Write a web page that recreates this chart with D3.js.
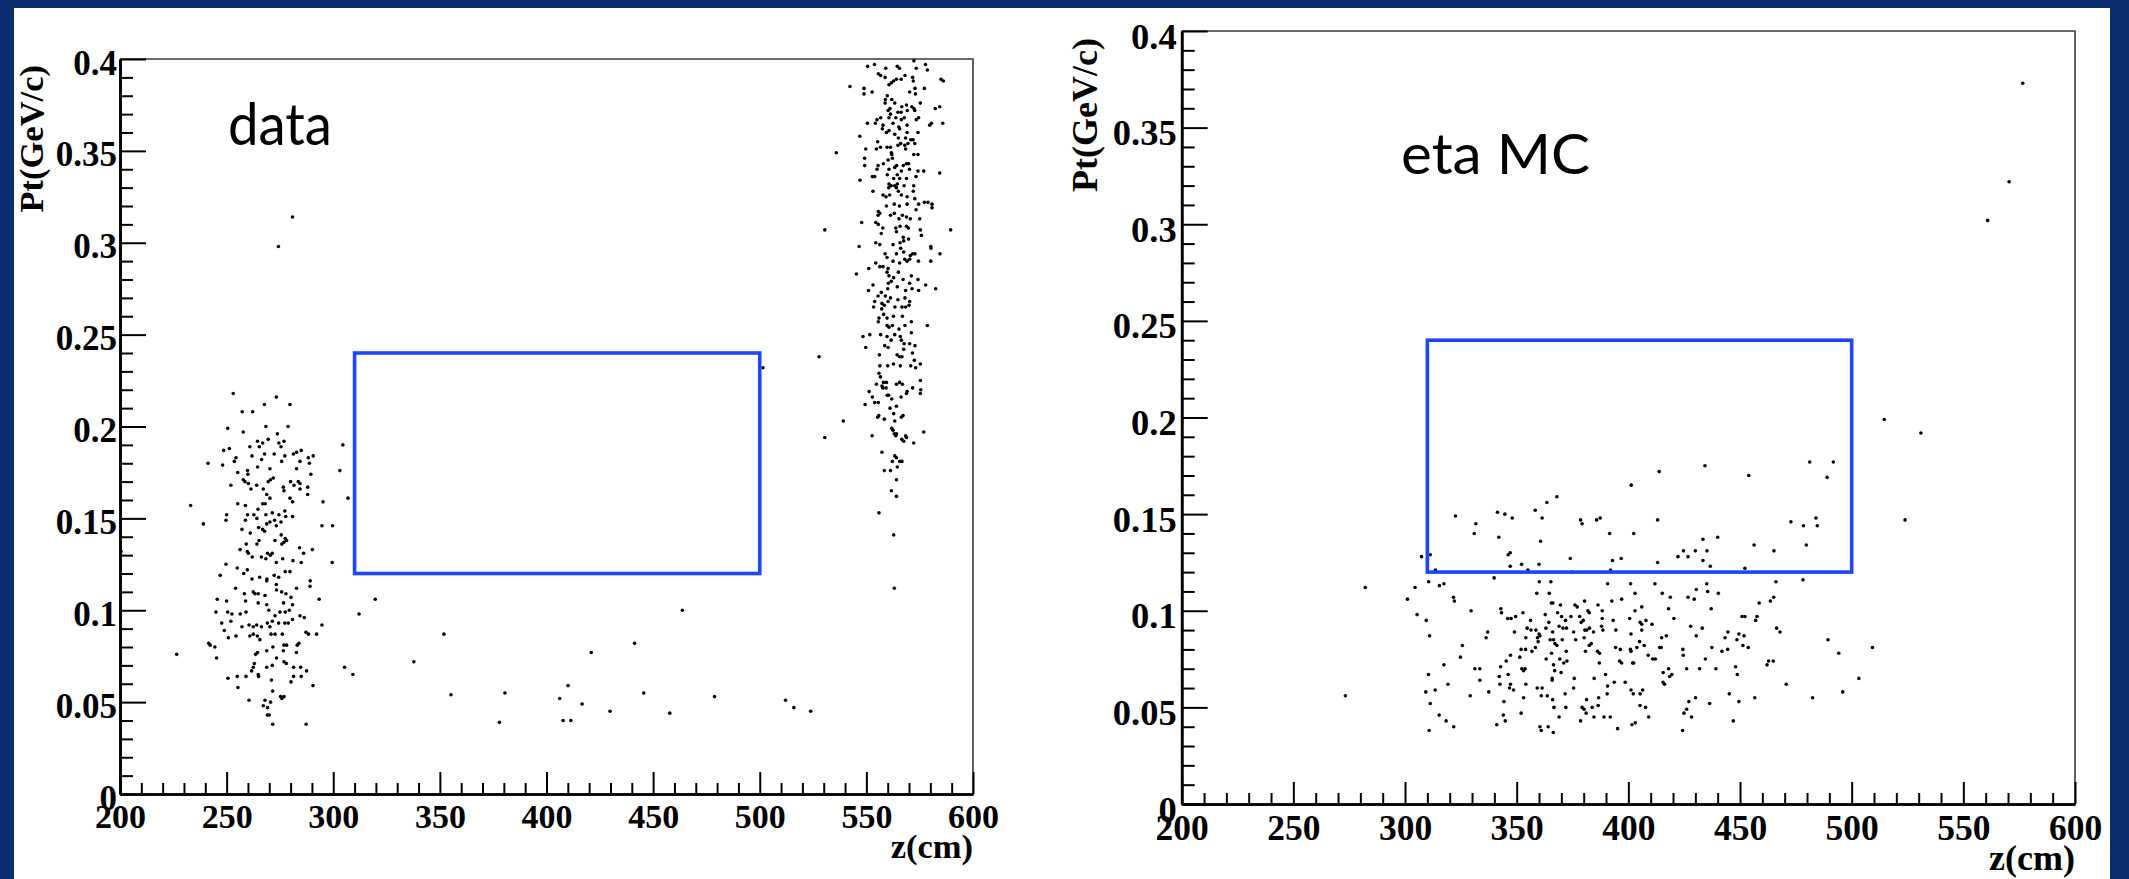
<!DOCTYPE html>
<html><head><meta charset="utf-8">
<script src="https://cdn.jsdelivr.net/npm/d3@7"></script>
<style>
html,body{margin:0;padding:0;background:#0a2d70;}
svg{display:block}
</style>
</head><body>
<svg id="chart" width="2129" height="879"></svg>
<script>
// ---------------- DATA ----------------
// axis ranges and tick labels
const zDomain = [200, 600];
const ptDomain = [0, 0.4];
const xTickValues = [200, 250, 300, 350, 400, 450, 500, 550, 600];
const yTickValues = [0, 0.05, 0.1, 0.15, 0.2, 0.25, 0.3, 0.35, 0.4];
const yTickLabels = ["0", "0.05", "0.1", "0.15", "0.2", "0.25", "0.3", "0.35", "0.4"];
const xTitle = "z(cm)";
const yTitle = "Pt(GeV/c)";
const panelLabels = ["data", "eta MC"];
// signal box cut: z range and Pt range
const cutZ = [310, 500];
const cutPt = [0.12, 0.24];

// data: cluster at low z  [z (cm), Pt (GeV/c)]
const dataLowZ = [
[253.1,0.218],[273.3,0.216],[267.7,0.212],[279.7,0.212],[257.3,0.208],[262.2,0.208],[250.5,0.199],[268.4,0.200],
[257.8,0.197],[273.8,0.196],[278.8,0.200],[264.5,0.192],[269.5,0.193],[266.9,0.191],[274.5,0.191],[276.9,0.192],
[260.9,0.189],[265.3,0.189],[275.5,0.189],[304.5,0.190],[248.6,0.187],[251.3,0.188],[261.9,0.184],[267.8,0.185],
[272.3,0.185],[277.3,0.184],[281.3,0.185],[282.8,0.186],[285.0,0.187],[288.3,0.183],[290.6,0.184],[254.4,0.183],
[253.6,0.181],[266.4,0.182],[275.8,0.181],[288.8,0.180],[241.3,0.180],[248.1,0.179],[264.5,0.178],[270.3,0.177],
[284.4,0.181],[282.8,0.177],[303.1,0.176],[255.2,0.175],[259.8,0.176],[260.0,0.174],[257.8,0.171],[258.6,0.170],
[260.2,0.169],[270.6,0.171],[271.9,0.172],[269.5,0.170],[280.0,0.170],[283.6,0.170],[284.4,0.169],[289.5,0.174],
[252.0,0.168],[264.1,0.168],[261.4,0.166],[267.2,0.166],[276.6,0.167],[276.9,0.165],[281.6,0.168],[284.4,0.166],
[288.0,0.167],[288.0,0.163],[268.8,0.163],[270.3,0.161],[279.7,0.161],[280.9,0.159],[295.2,0.159],[255.2,0.158],
[258.8,0.157],[266.9,0.158],[268.1,0.158],[233.1,0.157],[264.7,0.155],[259.8,0.152],[262.8,0.152],[268.4,0.152],
[271.4,0.153],[274.5,0.152],[277.3,0.154],[277.7,0.151],[280.9,0.151],[250.0,0.152],[249.7,0.149],[258.8,0.149],
[264.2,0.150],[270.3,0.148],[272.5,0.149],[275.5,0.148],[268.8,0.147],[273.3,0.146],[239.1,0.147],[294.7,0.146],
[299.7,0.146],[257.2,0.144],[265.0,0.145],[266.9,0.144],[267.8,0.143],[275.6,0.141],[277.5,0.139],[278.1,0.138],
[276.9,0.137],[275.9,0.136],[261.1,0.142],[272.7,0.138],[265.2,0.138],[264.2,0.136],[259.2,0.136],[284.2,0.134],
[286.1,0.131],[290.2,0.133],[256.3,0.133],[259.7,0.132],[260.2,0.131],[269.2,0.131],[271.4,0.131],[270.5,0.130],
[266.3,0.129],[262.0,0.129],[268.4,0.128],[276.3,0.128],[273.3,0.126],[281.1,0.127],[285.0,0.126],[299.5,0.126],
[249.7,0.125],[255.0,0.123],[259.7,0.122],[247.0,0.119],[258.0,0.120],[261.9,0.117],[265.5,0.118],[268.9,0.117],
[268.8,0.116],[272.3,0.119],[274.4,0.118],[273.3,0.114],[277.5,0.121],[279.7,0.121],[282.8,0.112],[289.2,0.116],
[289.1,0.113],[254.2,0.112],[262.5,0.110],[263.3,0.109],[258.3,0.109],[264.8,0.109],[268.0,0.108],[273.4,0.111],
[275.8,0.110],[277.8,0.109],[280.2,0.107],[276.7,0.104],[280.9,0.103],[293.4,0.106],[245.6,0.106],[250.0,0.105],
[258.9,0.105],[264.8,0.104],[268.8,0.103],[245.0,0.099],[250.5,0.099],[252.5,0.098],[256.4,0.098],[259.1,0.099],
[269.8,0.100],[272.7,0.097],[275.0,0.099],[277.5,0.099],[279.4,0.100],[284.4,0.097],[286.4,0.096],[247.7,0.093],
[252.0,0.094],[257.2,0.091],[260.5,0.092],[262.5,0.091],[264.1,0.092],[266.3,0.091],[269.1,0.093],[270.3,0.091],
[271.4,0.094],[274.4,0.093],[277.3,0.093],[278.9,0.093],[280.9,0.095],[294.7,0.092],[248.9,0.089],[254.4,0.086],
[250.8,0.085],[260.9,0.086],[262.5,0.087],[264.4,0.086],[265.6,0.084],[270.8,0.087],[272.7,0.087],[276.1,0.087],
[287.2,0.088],[288.4,0.087],[292.2,0.087],[241.6,0.082],[242.3,0.081],[244.5,0.080],[268.8,0.078],[271.7,0.080],
[276.9,0.081],[278.1,0.081],[283.9,0.082],[283.1,0.081],[264.5,0.077],[263.6,0.076],[276.6,0.078],[282.7,0.077],
[226.6,0.076],[245.3,0.074],[273.4,0.074],[276.9,0.072],[278.0,0.071],[263.0,0.071],[262.5,0.069],[268.8,0.069],
[271.4,0.070],[281.4,0.069],[284.7,0.069],[287.5,0.067],[305.3,0.069],[261.7,0.067],[264.8,0.065],[265.0,0.064],
[250.6,0.063],[255.0,0.064],[259.1,0.064],[271.0,0.062],[280.2,0.061],[281.4,0.064],[285.0,0.064],[255.3,0.058],
[290.5,0.059],[271.6,0.056],[275.3,0.053],[276.9,0.053],[275.9,0.052],[260.5,0.051],[268.0,0.051],[270.6,0.050],
[267.2,0.048],[269.2,0.047],[269.1,0.043],[270.0,0.043],[271.6,0.038],[287.3,0.038],
[306.9,0.161],[309.2,0.065],[312.1,0.098],[319.7,0.106],[200.5,0.132]
];

// data: cluster at high z
const dataHighZ = [
[572.3,0.399],[553.8,0.397],[550.6,0.396],[559.1,0.395],[564.5,0.396],[565.5,0.395],[577.7,0.397],[578.6,0.394],
[573.4,0.395],[555.6,0.392],[556.7,0.391],[568.1,0.391],[558.8,0.390],[571.7,0.390],[572.0,0.388],[564.1,0.389],
[562.8,0.388],[561.7,0.387],[566.3,0.389],[560.6,0.386],[585.0,0.389],[586.1,0.388],[542.3,0.385],[548.9,0.384],
[552.7,0.382],[548.9,0.381],[570.3,0.382],[572.8,0.384],[577.2,0.384],[573.0,0.381],[559.8,0.380],[558.9,0.378],
[561.9,0.378],[563.3,0.376],[566.6,0.374],[568.8,0.375],[571.3,0.374],[572.3,0.373],[558.8,0.376],[561.1,0.373],
[575.3,0.376],[582.3,0.373],[584.4,0.374],[560.2,0.372],[564.8,0.371],[566.3,0.371],[569.2,0.372],[572.7,0.372],
[561.3,0.370],[556.7,0.368],[560.6,0.368],[563.8,0.368],[566.4,0.367],[567.8,0.368],[573.4,0.367],[574.5,0.368],
[555.0,0.367],[550.5,0.365],[554.2,0.365],[557.8,0.364],[562.5,0.365],[565.2,0.363],[565.6,0.362],[569.1,0.364],
[579.7,0.364],[580.5,0.365],[585.8,0.365],[557.5,0.362],[560.6,0.361],[559.4,0.360],[563.3,0.359],[569.1,0.360],
[570.8,0.356],[571.9,0.356],[569.5,0.354],[565.0,0.357],[568.4,0.357],[546.9,0.358],[574.2,0.360],[555.3,0.355],
[556.6,0.352],[554.7,0.351],[559.7,0.352],[561.3,0.352],[564.8,0.353],[566.1,0.354],[568.0,0.353],[572.7,0.354],
[568.4,0.351],[549.7,0.351],[535.9,0.349],[561.7,0.349],[549.2,0.346],[562.2,0.346],[560.2,0.345],[572.2,0.348],
[574.2,0.348],[561.9,0.348],[567.3,0.342],[568.8,0.343],[569.8,0.343],[564.2,0.342],[563.3,0.341],[560.6,0.340],
[555.5,0.342],[555.0,0.340],[558.0,0.343],[549.2,0.342],[566.4,0.339],[570.2,0.340],[574.2,0.339],[576.9,0.339],
[584.4,0.338],[573.3,0.336],[552.8,0.336],[553.9,0.336],[559.8,0.337],[564.5,0.337],[565.6,0.335],[568.8,0.335],
[562.8,0.335],[547.0,0.334],[560.6,0.332],[561.6,0.331],[563.3,0.331],[564.5,0.332],[567.7,0.331],[560.5,0.330],
[564.1,0.330],[572.2,0.331],[553.1,0.328],[565.0,0.328],[572.0,0.328],[557.8,0.326],[559.2,0.325],[560.9,0.326],
[566.4,0.326],[569.1,0.325],[572.7,0.324],[559.4,0.320],[563.1,0.321],[565.5,0.320],[569.1,0.321],[577.2,0.322],
[578.9,0.322],[580.8,0.321],[580.8,0.319],[573.3,0.318],[574.5,0.321],[555.6,0.317],[556.3,0.316],[563.1,0.316],
[561.3,0.315],[566.9,0.315],[568.8,0.314],[570.6,0.313],[575.0,0.313],[565.3,0.313],[555.5,0.315],[547.8,0.311],
[554.4,0.311],[555.6,0.310],[557.7,0.308],[563.8,0.308],[565.8,0.309],[568.8,0.309],[569.7,0.308],[564.1,0.306],
[567.3,0.303],[575.3,0.307],[575.8,0.304],[557.0,0.305],[530.5,0.307],[589.5,0.307],[554.4,0.300],[556.3,0.299],
[546.6,0.298],[562.5,0.299],[565.8,0.300],[567.5,0.301],[569.8,0.302],[566.1,0.297],[580.2,0.298],[580.3,0.297],
[584.5,0.294],[558.8,0.294],[559.7,0.292],[564.1,0.294],[567.5,0.295],[570.6,0.293],[571.7,0.294],[572.8,0.294],
[568.0,0.291],[570.3,0.291],[569.1,0.290],[562.5,0.290],[565.6,0.289],[574.4,0.290],[580.2,0.290],[554.4,0.289],
[557.8,0.287],[560.2,0.286],[556.3,0.287],[551.1,0.286],[545.3,0.283],[559.7,0.284],[560.6,0.282],[565.0,0.284],
[562.8,0.281],[571.1,0.282],[567.2,0.280],[574.2,0.280],[570.3,0.278],[560.3,0.278],[561.7,0.279],[553.1,0.277],
[560.0,0.275],[564.5,0.276],[568.4,0.274],[571.4,0.275],[574.5,0.274],[577.8,0.277],[582.5,0.275],[557.0,0.273],
[551.0,0.274],[555.5,0.271],[558.9,0.271],[561.3,0.270],[564.8,0.269],[568.1,0.270],[570.3,0.268],[553.9,0.268],
[557.3,0.267],[558.4,0.266],[560.2,0.268],[570.0,0.266],[566.7,0.265],[557.2,0.264],[553.4,0.265],[563.4,0.265],
[568.4,0.265],[562.7,0.260],[566.9,0.260],[558.1,0.261],[559.7,0.259],[555.9,0.259],
[555.6,0.257],[559.7,0.255],[560.6,0.254],[562.2,0.255],[565.3,0.253],[568.1,0.255],[571.1,0.257],[578.6,0.255],
[548.4,0.249],[551.6,0.250],[556.7,0.250],[559.7,0.249],[563.3,0.250],[565.9,0.249],[571.1,0.251],[561.6,0.247],
[566.4,0.247],[567.7,0.245],[570.3,0.245],[572.8,0.244],[549.7,0.243],[558.6,0.244],[560.2,0.243],[567.5,0.242],
[571.6,0.240],[527.8,0.238],[556.1,0.239],[564.4,0.239],[565.6,0.238],[566.7,0.238],[572.5,0.236],[556.3,0.233],
[560.0,0.233],[562.7,0.234],[565.9,0.233],[570.8,0.233],[573.1,0.232],[575.3,0.234],[555.9,0.229],[556.6,0.227],
[558.0,0.224],[559.4,0.224],[557.3,0.222],[554.7,0.223],[564.1,0.223],[565.6,0.224],[566.9,0.223],[575.3,0.225],
[551.3,0.219],[557.7,0.221],[559.2,0.221],[571.7,0.221],[575.5,0.220],[575.3,0.218],[569.1,0.219],[568.8,0.218],
[559.8,0.217],[560.5,0.217],[561.9,0.215],[552.8,0.216],[566.3,0.216],[549.4,0.212],[553.9,0.213],[555.6,0.213],
[561.1,0.210],[564.1,0.211],[562.8,0.207],[555.8,0.206],[555.3,0.205],[558.4,0.204],[566.4,0.205],[567.2,0.206],
[539.2,0.203],[563.3,0.203],[561.9,0.199],[562.5,0.198],[563.1,0.196],[563.8,0.195],[564.1,0.196],[566.6,0.193],
[567.5,0.192],[568.4,0.195],[568.8,0.194],[572.2,0.191],[576.9,0.197],[552.7,0.195],[530.5,0.194],[557.3,0.186],
[563.3,0.184],[564.1,0.183],[562.2,0.181],[565.6,0.181],[566.7,0.181],[564.5,0.178],[558.4,0.176],[561.3,0.176],
[564.1,0.171],[561.7,0.165],[564.1,0.162],[555.9,0.153],[562.8,0.141],[563.1,0.112]
];

// data: scattered entries between the clusters
const dataScattered = [
[274.3,0.298],[280.9,0.314],[351.9,0.087],[337.8,0.072],[355.2,0.054],[380.5,0.055],[377.9,0.039],[406.2,0.052],
[410.1,0.059],[416.7,0.049],[407.8,0.040],[411.4,0.040],[421.0,0.077],[429.8,0.045],[441.3,0.082],[445.6,0.055],
[457.8,0.044],[463.7,0.100],[478.8,0.053],[512.1,0.051],[516.0,0.047],[523.9,0.045],[501.5,0.232]
];

// eta MC entries
const mcPoints = [
[401.3,0.165],[368.0,0.159],[363.5,0.156],[322.6,0.149],[341.4,0.151],[344.7,0.150],[348.0,0.148],[358.3,0.152],
[361.4,0.148],[378.6,0.147],[379.3,0.145],[385.8,0.147],[387.4,0.148],[331.7,0.145],[331.0,0.140],[342.0,0.138],
[360.7,0.136],[391.6,0.140],[402.4,0.140],[307.4,0.128],[311.3,0.129],[346.2,0.129],[347.1,0.130],[374.0,0.127],
[392.9,0.126],[396.8,0.127],[313.6,0.121],[347.1,0.123],[352.2,0.124],[355.0,0.121],[360.0,0.124],[374.9,0.120],
[392.0,0.121],[339.9,0.117],[310.6,0.115],[315.4,0.113],[317.4,0.114],[304.5,0.112],[360.1,0.115],[365.3,0.115],
[390.7,0.114],[401.0,0.114],[359.0,0.109],[364.6,0.109],[403.0,0.109],[301.1,0.106],[321.7,0.107],[322.1,0.105],
[365.5,0.104],[366.2,0.104],[369.6,0.103],[376.1,0.103],[377.1,0.102],[380.4,0.105],[386.4,0.103],[392.6,0.105],
[397.0,0.106],[305.4,0.098],[309.5,0.095],[329.6,0.100],[342.9,0.101],[343.2,0.099],[346.0,0.096],[347.5,0.096],
[349.5,0.097],[352.8,0.099],[356.2,0.095],[362.8,0.098],[368.3,0.099],[371.9,0.095],[370.1,0.097],[374.3,0.097],
[378.2,0.097],[378.9,0.094],[379.8,0.095],[381.9,0.100],[382.5,0.099],[388.3,0.100],[388.3,0.096],[393.2,0.095],
[400.6,0.096],[403.0,0.100],[406.0,0.102],[407.9,0.095],[406.0,0.093],[311.0,0.087],[337.0,0.089],[336.3,0.086],
[349.0,0.089],[354.7,0.091],[356.4,0.090],[358.6,0.090],[360.0,0.088],[360.4,0.087],[354.1,0.086],[363.1,0.091],
[364.4,0.094],[366.1,0.089],[369.0,0.092],[370.7,0.091],[372.3,0.091],[375.5,0.089],[380.5,0.090],[381.4,0.090],
[382.6,0.091],[384.4,0.089],[388.0,0.092],[388.6,0.090],[394.4,0.090],[401.2,0.088],[406.0,0.090],[405.3,0.094],
[325.7,0.082],[324.8,0.076],[354.0,0.080],[356.8,0.079],[358.4,0.081],[359.6,0.084],[359.3,0.086],[365.0,0.085],
[366.5,0.085],[367.1,0.083],[368.0,0.082],[370.4,0.085],[372.2,0.079],[376.4,0.085],[380.8,0.079],[382.5,0.082],
[380.2,0.086],[383.4,0.083],[386.2,0.079],[387.1,0.078],[394.3,0.081],[396.4,0.080],[400.9,0.080],[401.2,0.079],
[403.8,0.081],[405.0,0.084],[407.1,0.082],[408.9,0.077],[401.9,0.073],[347.2,0.077],[352.0,0.080],[317.4,0.072],
[331.3,0.070],[333.5,0.070],[342.8,0.071],[345.3,0.074],[351.4,0.076],[352.3,0.070],[353.1,0.069],[353.8,0.070],
[363.2,0.075],[365.6,0.078],[366.5,0.072],[367.0,0.069],[369.3,0.075],[369.9,0.068],[371.1,0.073],[372.5,0.074],
[387.0,0.073],[396.1,0.074],[397.0,0.073],[402.4,0.073],[310.5,0.067],[319.2,0.062],[333.5,0.064],[342.2,0.066],
[346.2,0.067],[342.5,0.062],[337.5,0.058],[347.2,0.062],[346.8,0.060],[348.6,0.059],[354.1,0.062],[365.9,0.065],
[365.9,0.064],[375.8,0.065],[375.5,0.060],[384.7,0.065],[389.8,0.067],[390.7,0.061],[393.7,0.063],[398.6,0.063],
[401.2,0.059],[406.4,0.059],[405.3,0.057],[402.2,0.057],[313.5,0.059],[309.3,0.058],[329.2,0.056],[344.3,0.053],
[352.0,0.047],[353.1,0.055],[359.2,0.060],[361.4,0.060],[361.0,0.056],[363.7,0.056],[366.1,0.054],[366.7,0.050],
[371.7,0.057],[372.0,0.050],[379.3,0.050],[381.3,0.054],[380.2,0.049],[381.1,0.047],[383.8,0.050],[386.7,0.055],
[386.5,0.051],[390.5,0.057],[405.2,0.051],[407.7,0.050],[311.3,0.052],[315.3,0.046],[318.4,0.043],[321.8,0.040],
[344.0,0.046],[344.9,0.043],[341.1,0.041],[360.4,0.040],[361.0,0.038],[364.1,0.040],[366.4,0.037],[369.0,0.045],
[378.6,0.043],[384.6,0.045],[389.1,0.045],[391.9,0.045],[395.2,0.039],[401.6,0.041],[403.1,0.042],[409.1,0.045],
[310.8,0.038],
[413.8,0.172],[434.3,0.175],[453.9,0.170],[481.2,0.177],[491.8,0.177],[489.0,0.169],[413.1,0.147],[472.8,0.146],
[478.4,0.144],[484.0,0.148],[484.6,0.144],[523.9,0.147],[433.4,0.137],[440.0,0.138],[424.7,0.131],[430.0,0.131],
[426.7,0.128],[422.2,0.128],[435.2,0.131],[413.1,0.125],[433.4,0.126],[436.7,0.123],[456.3,0.134],[465.2,0.131],
[479.7,0.134],[452.2,0.122],[411.9,0.114],[466.1,0.115],[478.2,0.116],[435.1,0.114],[430.4,0.111],[435.5,0.110],
[440.3,0.109],[415.2,0.109],[418.8,0.107],[426.7,0.107],[429.5,0.106],[458.6,0.104],[463.6,0.105],[465.1,0.107],
[418.0,0.101],[437.1,0.101],[420.4,0.096],[450.9,0.097],[452.2,0.097],[457.6,0.097],[457.0,0.095],[410.6,0.093],
[427.9,0.092],[433.1,0.091],[466.4,0.091],[467.9,0.089],[414.9,0.086],[417.0,0.087],[430.4,0.087],[444.6,0.089],
[443.3,0.086],[449.5,0.088],[448.6,0.085],[451.8,0.087],[451.3,0.082],[453.7,0.081],[437.4,0.081],[424.4,0.080],
[424.6,0.077],[441.9,0.079],[444.5,0.080],[414.0,0.081],[414.7,0.081],[489.4,0.085],[494.2,0.078],[509.3,0.081],
[410.9,0.075],[412.1,0.075],[434.5,0.075],[426.1,0.070],[431.9,0.070],[439.2,0.070],[418.0,0.070],[415.6,0.068],
[418.5,0.066],[419.5,0.067],[448.0,0.071],[448.8,0.067],[462.1,0.072],[462.8,0.074],[464.9,0.074],[415.5,0.063],
[416.2,0.062],[470.7,0.062],[503.2,0.065],[496.0,0.058],[482.5,0.055],[445.2,0.057],[430.1,0.055],[427.1,0.053],
[436.4,0.052],[449.5,0.053],[456.6,0.055],[426.1,0.049],[424.9,0.047],[428.3,0.045],[447.0,0.043],[424.3,0.038],
[576.6,0.373],[570.5,0.322],[560.9,0.302],[514.6,0.199],[531.0,0.192],[273.3,0.056],[282.2,0.112]
];

// ---------------- LAYOUT ----------------
const svg = d3.select("#chart");
svg.append("rect").attr("x", 0).attr("y", 0).attr("width", 2129).attr("height", 879).attr("fill", "#0a2d70");
svg.append("rect").attr("x", 14).attr("y", 8).attr("width", 2096).attr("height", 871).attr("fill", "#ffffff");

const panels = [
  { points: [...dataLowZ, ...dataHighZ, ...dataScattered], label: panelLabels[0],
    left: 120, right: 973, top: 59, bottom: 794,
    labelX: 228, labelY: 145, labelLen: 104, labelSize: 58,
    yTitleX: 43, yTitleY: 65, xTitleY: 858, titleSize: 34.5,
    yTickFont: 35, xTickFont: 34, yLabBase: 15, yLabGap: 3, xLabBase: 34 },
  { points: mcPoints, label: panelLabels[1],
    left: 1181.7, right: 2075, top: 31, bottom: 804,
    labelX: 1401, labelY: 174, labelLen: 189, labelSize: 56,
    yTitleX: 1097, yTitleY: 38, xTitleY: 870, titleSize: 36,
    yTickFont: 36.5, xTickFont: 35.5, yLabBase: 17, yLabGap: 5, xLabBase: 36 }
];

const xMinorTicks = d3.range(200, 601, 10).filter(v => v % 50 !== 0);
const yMinorTicks = d3.range(0, 41, 1).filter(v => v % 5 !== 0).map(v => v / 100);
const serif = "'Liberation Serif','Times New Roman',serif";

panels.forEach(p => {
  const x = d3.scaleLinear().domain(zDomain).range([p.left, p.right]);
  const y = d3.scaleLinear().domain(ptDomain).range([p.bottom, p.top]);
  const g = svg.append("g");

  // frame (top & right)
  g.append("path")
    .attr("d", `M${p.left},${p.top}H${p.right}V${p.bottom}`)
    .attr("fill", "none").attr("stroke", "#3a3a3a").attr("stroke-width", 1.6);

  // x axis: minor and major ticks pointing inward
  const gxMinor = g.append("g").attr("transform", `translate(0,${p.bottom})`)
    .call(d3.axisBottom(x).tickValues(xMinorTicks).tickSize(-11).tickSizeOuter(0).tickFormat(""));
  const gx = g.append("g").attr("transform", `translate(0,${p.bottom})`)
    .call(d3.axisBottom(x).tickValues(xTickValues).tickSize(-22).tickSizeOuter(0).tickFormat(d => String(d)));
  // y axis
  const gyMinor = g.append("g").attr("transform", `translate(${p.left},0)`)
    .call(d3.axisLeft(y).tickValues(yMinorTicks).tickSize(-13).tickSizeOuter(0).tickFormat(""));
  const gy = g.append("g").attr("transform", `translate(${p.left},0)`)
    .call(d3.axisLeft(y).tickValues(yTickValues).tickSize(-26).tickSizeOuter(0)
      .tickFormat((d, i) => yTickLabels[i]));

  [gxMinor, gx, gyMinor, gy].forEach(a => {
    a.selectAll(".domain").attr("stroke", "#000").attr("stroke-width", 2.6);
    a.selectAll(".tick line").attr("stroke", "#000").attr("stroke-width", 2);
  });
  gx.selectAll(".tick text")
    .attr("y", p.xLabBase).attr("dy", null)
    .attr("font-family", serif).attr("font-weight", "bold")
    .attr("font-size", p.xTickFont).attr("fill", "#000");
  gy.selectAll(".tick text")
    .attr("x", -p.yLabGap).attr("y", p.yLabBase).attr("dy", null)
    .attr("font-family", serif).attr("font-weight", "bold")
    .attr("font-size", p.yTickFont).attr("fill", "#000");

  // axis titles
  g.append("text").text(xTitle)
    .attr("x", p.right).attr("y", p.xTitleY).attr("text-anchor", "end")
    .attr("font-family", serif).attr("font-weight", "bold").attr("font-size", p.titleSize);
  g.append("text").text(yTitle)
    .attr("transform", `translate(${p.yTitleX},${p.yTitleY}) rotate(-90)`)
    .attr("text-anchor", "end")
    .attr("font-family", serif).attr("font-weight", "bold").attr("font-size", p.titleSize);

  // points
  g.append("g").selectAll("circle").data(p.points).join("circle")
    .attr("cx", d => x(d[0])).attr("cy", d => y(d[1])).attr("r", 1.8).attr("fill", "#000");

  // cut box
  g.append("rect")
    .attr("x", x(cutZ[0])).attr("y", y(cutPt[1]))
    .attr("width", x(cutZ[1]) - x(cutZ[0])).attr("height", y(cutPt[0]) - y(cutPt[1]))
    .attr("fill", "none").attr("stroke", "#1f45ff").attr("stroke-width", 3.6);

  // panel label
  g.append("text").text(p.label)
    .attr("x", p.labelX).attr("y", p.labelY)
    .attr("font-family", "'Lato','Open Sans',sans-serif").attr("font-size", p.labelSize)
    .attr("textLength", p.labelLen).attr("lengthAdjust", "spacingAndGlyphs").attr("fill", "#000");
});
</script>
</body></html>
